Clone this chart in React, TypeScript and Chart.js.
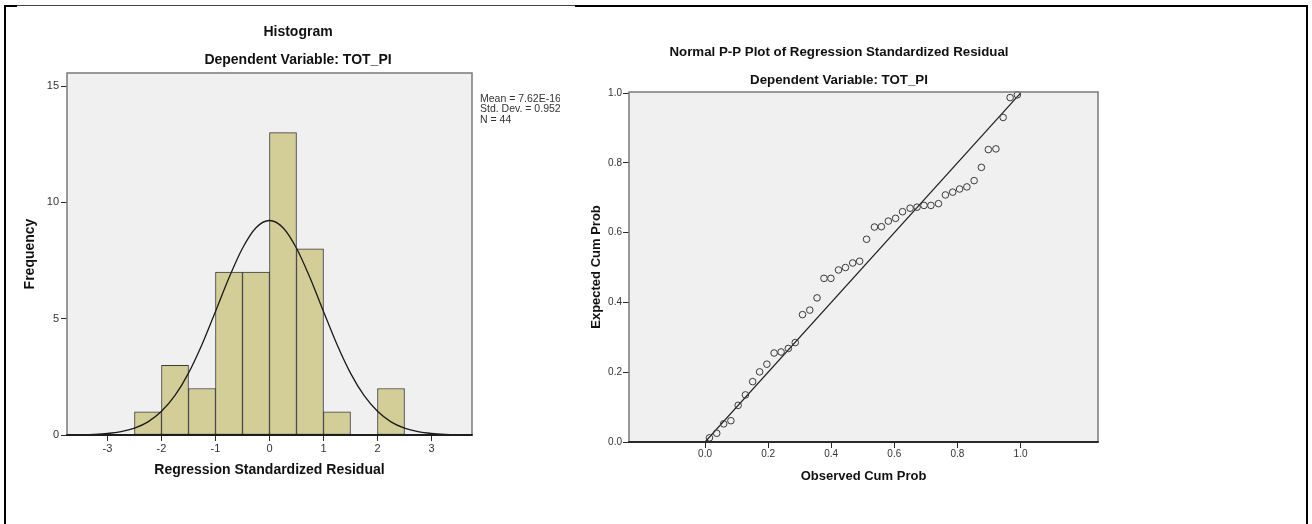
import React, { useEffect, useRef } from "react";
import { Chart, registerables } from "chart.js";

Chart.register(...registerables);

const FONT = "'Liberation Sans', Arial, sans-serif";

// ---------- Histogram data ----------
const binCenters = [-2.25, -1.75, -1.25, -0.75, -0.25, 0.25, 0.75, 1.25, 1.75, 2.25];
const binCounts = [1, 3, 2, 7, 7, 13, 8, 1, 0, 2];
const curveX = [
  -3.75, -3.5, -3.25, -3, -2.75, -2.5, -2.25, -2, -1.75, -1.5, -1.25, -1, -0.75, -0.5, -0.25, 0,
  0.25, 0.5, 0.75, 1, 1.25, 1.5, 1.75, 2, 2.25, 2.5, 2.75, 3, 3.25, 3.5, 3.75,
];
const curveY = [
  0.004, 0.011, 0.027, 0.064, 0.142, 0.293, 0.565, 1.02, 1.7, 2.66, 3.89, 5.31, 6.76, 8.03, 8.91, 9.22,
  8.91, 8.03, 6.76, 5.31, 3.89, 2.66, 1.7, 1.02, 0.565, 0.293, 0.142, 0.064, 0.027, 0.011, 0.004,
];
const histXTicks = [-3, -2, -1, 0, 1, 2, 3];
const histYTicks = [0, 5, 10, 15];
const histStats = ["Mean = 7.62E-16", "Std. Dev. = 0.952", "N = 44"];
const histTitle = "Histogram";
const histSubtitle = "Dependent Variable: TOT_PI";
const histXTitle = "Regression Standardized Residual";
const histYTitle = "Frequency";

// ---------- P-P plot data ----------
const ppObserved = [
  0.014, 0.037, 0.059, 0.082, 0.105, 0.128, 0.151, 0.173, 0.196, 0.219, 0.241, 0.264, 0.286, 0.309,
  0.332, 0.355, 0.377, 0.399, 0.423, 0.445, 0.468, 0.49, 0.512, 0.537, 0.559, 0.581, 0.604, 0.626,
  0.65, 0.672, 0.694, 0.716, 0.74, 0.762, 0.785, 0.807, 0.83, 0.853, 0.876, 0.898, 0.922, 0.945,
  0.967, 0.99,
];
const ppExpected = [
  0.012, 0.025, 0.052, 0.061, 0.105, 0.135, 0.173, 0.201, 0.223, 0.255, 0.258, 0.268, 0.285, 0.365,
  0.378, 0.413, 0.469, 0.469, 0.493, 0.5, 0.513, 0.518, 0.581, 0.616, 0.617, 0.633, 0.641, 0.66,
  0.67, 0.673, 0.678, 0.678, 0.683, 0.708, 0.716, 0.725, 0.731, 0.749, 0.787, 0.838, 0.84, 0.93,
  0.987, 0.995,
];
const refLineX = [0, 1];
const refLineY = [0, 1];
const ppTicks = [0, 0.2, 0.4, 0.6, 0.8, 1.0];
const ppTitle = "Normal P-P Plot of Regression Standardized Residual";
const ppSubtitle = "Dependent Variable: TOT_PI";
const ppXTitle = "Observed Cum Prob";
const ppYTitle = "Expected Cum Prob";

// ---------- plugins ----------
const plotFrame = {
  id: "plotFrame",
  beforeDraw(chart: any, _a: any, opts: any) {
    const { ctx, chartArea: a } = chart;
    ctx.save();
    ctx.fillStyle = opts.bg;
    ctx.fillRect(a.left, a.top, a.right - a.left, a.bottom - a.top);
    ctx.restore();
  },
  afterDatasetsDraw(chart: any, _a: any, opts: any) {
    const { ctx, chartArea: a } = chart;
    ctx.save();
    ctx.lineWidth = 1.5;
    ctx.strokeStyle = opts.frame;
    ctx.beginPath();
    ctx.moveTo(a.left, a.bottom);
    ctx.lineTo(a.left, a.top);
    ctx.lineTo(a.right, a.top);
    ctx.lineTo(a.right, a.bottom);
    ctx.stroke();
    ctx.lineWidth = 2;
    ctx.strokeStyle = opts.axis;
    ctx.beginPath();
    ctx.moveTo(a.left - 0.75, a.bottom);
    ctx.lineTo(a.right + 0.75, a.bottom);
    ctx.stroke();
    ctx.restore();
  },
};

const textItems = {
  id: "textItems",
  afterDraw(chart: any, _a: any, opts: any) {
    const { ctx } = chart;
    ctx.save();
    for (const it of opts.items || []) {
      ctx.font = it.font;
      ctx.fillStyle = it.color;
      ctx.textAlign = it.align || "center";
      ctx.textBaseline = "middle";
      ctx.fillText(it.text, it.x, it.y);
    }
    ctx.restore();
  },
};

function axisCommon(size: number, tickPad: number) {
  return {
    grid: {
      display: true,
      drawOnChartArea: false,
      drawTicks: true,
      tickLength: 6,
      tickColor: "#2a2a2a",
      tickWidth: 1,
      offset: false,
    },
    border: { display: false },
    ticks: {
      color: "#333",
      font: { family: FONT, size },
      padding: tickPad,
      maxRotation: 0,
      autoSkip: false,
    },
  };
}

function HistogramChart() {
  const ref = useRef<HTMLCanvasElement | null>(null);
  useEffect(() => {
    if (!ref.current) return;
    const xc = axisCommon(11, 1);
    const yc = axisCommon(11, 2);
    const chart = new Chart(ref.current, {
      type: "bar",
      data: {
        datasets: [
          {
            type: "line",
            data: curveX.map((x, i) => ({ x, y: curveY[i] })),
            borderColor: "#1a1a1a",
            borderWidth: 1.3,
            pointRadius: 0,
            fill: false,
            cubicInterpolationMode: "monotone",
            order: 1,
          } as any,
          {
            type: "bar",
            data: binCenters.map((c, i) => ({ x: c, y: binCounts[i] > 0 ? binCounts[i] : null })),
            backgroundColor: "#d3ce97",
            borderColor: "#3a3a3a",
            borderWidth: 1,
            borderSkipped: false,
            barPercentage: 1,
            categoryPercentage: 1,
            order: 2,
          } as any,
        ],
      },
      options: {
        animation: false,
        responsive: false,
        devicePixelRatio: 1,
        layout: { padding: { left: 23, top: 73, right: 88, bottom: 46.5 } },
        plugins: {
          legend: { display: false },
          tooltip: { enabled: false },
          plotFrame: { bg: "#f0f0f0", frame: "#7a7a7a", axis: "#1e1e1e" },
          textItems: {
            items: [
              { text: histTitle, x: 298, y: 32, font: `bold 14px ${FONT}`, color: "#111" },
              { text: histSubtitle, x: 298, y: 60, font: `bold 14px ${FONT}`, color: "#111" },
              ...histStats.map((t, i) => ({
                text: t,
                x: 480,
                y: 99 + i * 10.5,
                align: "left",
                font: `10.5px ${FONT}`,
                color: "#333",
              })),
            ],
          },
        } as any,
        scales: {
          x: {
            type: "linear",
            min: -3.75,
            max: 3.75,
            offset: false,
            ...xc,
            afterBuildTicks: (s: any) => {
              s.ticks = histXTicks.map((v) => ({ value: v }));
            },
            afterFit: (s: any) => {
              s.height = 42.5;
            },
            ticks: { ...xc.ticks, callback: (v: any) => String(v) },
            title: {
              display: true,
              text: histXTitle,
              color: "#111",
              padding: 0,
              font: { family: FONT, size: 14, weight: "bold", lineHeight: 1 },
            },
          },
          y: {
            type: "linear",
            min: 0,
            max: 15.56,
            ...yc,
            afterBuildTicks: (s: any) => {
              s.ticks = histYTicks.map((v) => ({ value: v }));
            },
            afterFit: (s: any) => {
              s.width = 44;
            },
            ticks: { ...yc.ticks, callback: (v: any) => String(v) },
            title: {
              display: true,
              text: histYTitle,
              color: "#111",
              padding: 0,
              font: { family: FONT, size: 14, weight: "bold", lineHeight: 1 },
            },
          },
        } as any,
      },
      plugins: [plotFrame, textItems] as any,
    });
    return () => chart.destroy();
  }, []);
  return <canvas ref={ref} width={560} height={524} style={{ position: "absolute", left: 0, top: 0 }} />;
}

function PPChart() {
  const ref = useRef<HTMLCanvasElement | null>(null);
  useEffect(() => {
    if (!ref.current) return;
    const xc = axisCommon(10, 0);
    const yc = axisCommon(10, 1);
    const chart = new Chart(ref.current, {
      type: "scatter",
      data: {
        datasets: [
          {
            type: "line",
            data: refLineX.map((x, i) => ({ x, y: refLineY[i] })),
            borderColor: "#1e1e1e",
            borderWidth: 1.2,
            pointRadius: 0,
            fill: false,
            order: 2,
          } as any,
          {
            type: "scatter",
            data: ppObserved.map((x, i) => ({ x, y: ppExpected[i] })),
            pointStyle: "circle",
            pointRadius: 3.3,
            pointBorderWidth: 1,
            pointBorderColor: "#3a3a3a",
            pointBackgroundColor: "rgba(0,0,0,0)",
            showLine: false,
            clip: false,
            order: 1,
          } as any,
        ],
      },
      options: {
        animation: false,
        responsive: false,
        devicePixelRatio: 1,
        layout: { padding: { left: 29.5, top: 92, right: 214, bottom: 41.5 } },
        plugins: {
          legend: { display: false },
          tooltip: { enabled: false },
          plotFrame: { bg: "#f0f0f0", frame: "#7a7a7a", axis: "#2a2a2a" },
          textItems: {
            items: [
              { text: ppTitle, x: 279, y: 52, font: `bold 13.3px ${FONT}`, color: "#111" },
              { text: ppSubtitle, x: 279, y: 80, font: `bold 13.3px ${FONT}`, color: "#111" },
            ],
          },
        } as any,
        scales: {
          x: {
            type: "linear",
            min: -0.241,
            max: 1.2456,
            ...xc,
            afterBuildTicks: (s: any) => {
              s.ticks = ppTicks.map((v) => ({ value: v }));
            },
            afterFit: (s: any) => {
              s.height = 40.5;
            },
            ticks: { ...xc.ticks, callback: (v: any) => Number(v).toFixed(1) },
            title: {
              display: true,
              text: ppXTitle,
              color: "#111",
              padding: 0,
              font: { family: FONT, size: 13, weight: "bold", lineHeight: 1 },
            },
          },
          y: {
            type: "linear",
            min: 0,
            max: 1.003,
            ...yc,
            afterBuildTicks: (s: any) => {
              s.ticks = ppTicks.map((v) => ({ value: v }));
            },
            afterFit: (s: any) => {
              s.width = 39.5;
            },
            ticks: { ...yc.ticks, callback: (v: any) => Number(v).toFixed(1) },
            title: {
              display: true,
              text: ppYTitle,
              color: "#111",
              padding: 0,
              font: { family: FONT, size: 13, weight: "bold", lineHeight: 1 },
            },
          },
        } as any,
      },
      plugins: [plotFrame, textItems] as any,
    });
    return () => chart.destroy();
  }, []);
  return <canvas ref={ref} width={752} height={524} style={{ position: "absolute", left: 560, top: 0 }} />;
}

const line = (l: number, t: number, w: number, h: number, c: string) => (
  <div style={{ position: "absolute", left: l, top: t, width: w, height: h, background: c }} />
);

export default function App() {
  return (
    <div
      style={{
        position: "fixed",
        left: 0,
        top: 0,
        width: 1312,
        height: 524,
        background: "#ffffff",
        overflow: "hidden",
      }}
    >
      <HistogramChart />
      <PPChart />
      {line(4, 5, 2, 519, "#000")}
      {line(1306, 5, 2, 519, "#000")}
      {line(4, 5, 13, 2, "#000")}
      {line(17, 5, 558, 1, "#444")}
      {line(575, 5, 733, 2, "#000")}
    </div>
  );
}
